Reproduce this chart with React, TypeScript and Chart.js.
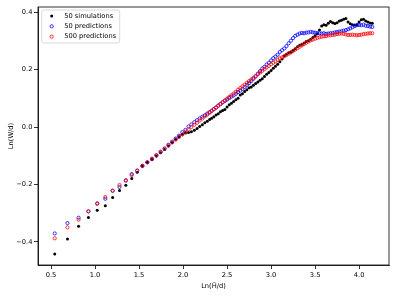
import React, { useEffect, useRef } from "react";
import { Chart, registerables } from "chart.js";

Chart.register(...registerables);

// Ln(H/d) sample positions
const xValues = [
  0.542, 0.687, 0.813, 0.925, 1.025, 1.117, 1.2, 1.278, 1.35, 1.417,
  1.479, 1.538, 1.594, 1.647, 1.697, 1.745, 1.79, 1.834, 1.876, 1.916,
  1.954, 1.992, 2.027, 2.062, 2.095, 2.128, 2.159, 2.189, 2.219, 2.247,
  2.275, 2.302,
  2.325, 2.35, 2.375, 2.4, 2.425, 2.45, 2.475, 2.5, 2.525, 2.55,
  2.575, 2.6, 2.625, 2.65, 2.675, 2.7, 2.725, 2.75, 2.775, 2.8,
  2.825, 2.85, 2.875, 2.9, 2.925, 2.95, 2.975, 3.0, 3.025, 3.05,
  3.075, 3.1, 3.125, 3.15, 3.175, 3.2, 3.225, 3.25, 3.275, 3.3,
  3.325, 3.35, 3.375, 3.4, 3.425, 3.45, 3.475, 3.5, 3.525, 3.55,
  3.575, 3.6, 3.625, 3.65, 3.675, 3.7, 3.725, 3.75, 3.775, 3.8,
  3.825, 3.85, 3.875, 3.9, 3.925, 3.95, 3.975, 4.0, 4.025, 4.05,
  4.075, 4.1, 4.125, 4.15,
];

// 50 simulations
const simY = [
  -0.443, -0.39, -0.346, -0.315, -0.29, -0.274, -0.246, -0.221, -0.203, -0.179,
  -0.158, -0.136, -0.123, -0.113, -0.101, -0.09, -0.078, -0.066, -0.054, -0.043,
  -0.033, -0.025, -0.021, -0.019, -0.016, -0.011, -0.005, 0.002, 0.008, 0.015,
  0.02, 0.026,
  0.031, 0.036, 0.042, 0.046, 0.053, 0.058, 0.061, 0.07, 0.078, 0.083,
  0.089, 0.095, 0.1, 0.112, 0.116, 0.124, 0.13, 0.137, 0.14, 0.146,
  0.152, 0.157, 0.163, 0.168, 0.176, 0.184, 0.19, 0.197, 0.205, 0.212,
  0.219, 0.228, 0.237, 0.248, 0.254, 0.259, 0.262, 0.268, 0.273, 0.28,
  0.285, 0.289, 0.293, 0.298, 0.301, 0.306, 0.312, 0.318, 0.325, 0.338,
  0.352, 0.357, 0.355, 0.362, 0.368, 0.364, 0.361, 0.364, 0.37, 0.372,
  0.376, 0.378, 0.366, 0.36, 0.357, 0.356, 0.357, 0.366, 0.374, 0.376,
  0.37, 0.366, 0.363, 0.362,
];

// 50 predictions
const pred50Y = [
  -0.371, -0.335, -0.316, -0.294, -0.266, -0.25, -0.222, -0.209, -0.187, -0.164,
  -0.152, -0.135, -0.123, -0.112, -0.099, -0.087, -0.075, -0.062, -0.051, -0.04,
  -0.03, -0.018, -0.01, 0.002, 0.009, 0.017, 0.024, 0.03, 0.036, 0.041,
  0.047, 0.052,
  0.057, 0.063, 0.068, 0.075, 0.08, 0.086, 0.091, 0.096, 0.101, 0.106,
  0.11, 0.116, 0.122, 0.127, 0.133, 0.14, 0.147, 0.153, 0.16, 0.168,
  0.176, 0.186, 0.195, 0.204, 0.21, 0.218, 0.224, 0.232, 0.24, 0.246,
  0.252, 0.262, 0.268, 0.274, 0.282, 0.292, 0.301, 0.31, 0.318, 0.322,
  0.326, 0.328, 0.327, 0.329, 0.33, 0.332, 0.33, 0.329, 0.328, 0.327,
  0.326, 0.327, 0.325, 0.326, 0.327, 0.328, 0.33, 0.331, 0.333, 0.334,
  0.336, 0.338, 0.341, 0.344, 0.348, 0.352, 0.355, 0.356, 0.355, 0.357,
  0.353, 0.352, 0.35, 0.349,
];

// 500 predictions
const pred500Y = [
  -0.388, -0.35, -0.323, -0.294, -0.268, -0.244, -0.222, -0.202, -0.185, -0.168,
  -0.152, -0.136, -0.123, -0.11, -0.098, -0.086, -0.075, -0.064, -0.054, -0.044,
  -0.035, -0.026, -0.017, -0.008, 0.0, 0.008, 0.015, 0.023, 0.03, 0.037,
  0.043, 0.05,
  0.056, 0.062, 0.068, 0.074, 0.081, 0.087, 0.093, 0.099, 0.105, 0.111,
  0.117, 0.123, 0.13, 0.136, 0.142, 0.148, 0.154, 0.16, 0.166, 0.172,
  0.178, 0.184, 0.19, 0.196, 0.202, 0.208, 0.213, 0.219, 0.224, 0.229,
  0.234, 0.239, 0.243, 0.247, 0.251, 0.256, 0.26, 0.265, 0.27, 0.275,
  0.28, 0.285, 0.289, 0.294, 0.298, 0.302, 0.305, 0.308, 0.311, 0.313,
  0.315, 0.316, 0.317, 0.319, 0.32, 0.321, 0.322, 0.324, 0.325, 0.326,
  0.325, 0.323, 0.321, 0.321, 0.322, 0.321, 0.32, 0.321, 0.322, 0.324,
  0.325, 0.326, 0.327, 0.327,
];

const seriesLabels = ["50 simulations", "50 predictions", "500 predictions"];
const xTicks = [0.5, 1.0, 1.5, 2.0, 2.5, 3.0, 3.5, 4.0];
const yTicks = [-0.4, -0.2, 0.0, 0.2, 0.4];
const xTitle = "Ln(H\u0304/d)";
const yTitle = "Ln(W/d)";

const FONT = "'DejaVu Sans', sans-serif";
const FONT_SIZE = 6.7;

const fmt = (v: number) => {
  const s = Math.abs(v).toFixed(1);
  return v < -1e-9 ? "\u2212" + s : s;
};

const framePlugin = {
  id: "frame",
  afterDatasetsDraw(chart: any) {
    const { ctx, chartArea } = chart;
    const { left, top, right, bottom } = chartArea;
    ctx.save();
    ctx.strokeStyle = "#000";
    ctx.lineWidth = 0.8;
    ctx.strokeRect(left, top, right - left, bottom - top);
    ctx.restore();
  },
};

const legendPlugin = {
  id: "boxLegend",
  afterDraw(chart: any) {
    const { ctx, chartArea } = chart;
    const bx = chartArea.left + 3.7;
    const by = chartArea.top + 3;
    const bw = 78;
    const bh = 33;
    ctx.save();
    ctx.beginPath();
    const r = 2;
    ctx.moveTo(bx + r, by);
    ctx.lineTo(bx + bw - r, by);
    ctx.quadraticCurveTo(bx + bw, by, bx + bw, by + r);
    ctx.lineTo(bx + bw, by + bh - r);
    ctx.quadraticCurveTo(bx + bw, by + bh, bx + bw - r, by + bh);
    ctx.lineTo(bx + r, by + bh);
    ctx.quadraticCurveTo(bx, by + bh, bx, by + bh - r);
    ctx.lineTo(bx, by + r);
    ctx.quadraticCurveTo(bx, by, bx + r, by);
    ctx.closePath();
    ctx.fillStyle = "rgba(255,255,255,0.8)";
    ctx.fill();
    ctx.strokeStyle = "#d0d0d0";
    ctx.lineWidth = 0.8;
    ctx.stroke();

    const datasets = chart.data.datasets;
    ctx.font = `${FONT_SIZE}px ${FONT}`;
    ctx.textBaseline = "middle";
    ctx.textAlign = "left";
    datasets.forEach((ds: any, i: number) => {
      const cy = by + 6 + i * 10.3;
      const mx = bx + 10;
      ctx.beginPath();
      ctx.arc(mx, cy, ds.pointRadius, 0, Math.PI * 2);
      if (ds.pointBorderWidth > 0) {
        ctx.strokeStyle = ds.pointBorderColor;
        ctx.lineWidth = ds.pointBorderWidth;
        ctx.stroke();
      } else {
        ctx.fillStyle = ds.pointBackgroundColor;
        ctx.fill();
      }
      ctx.fillStyle = "#000";
      ctx.fillText(ds.label, bx + 22.5, cy);
    });
    ctx.restore();
  },
};

export default function App() {
  const canvasRef = useRef<HTMLCanvasElement | null>(null);

  useEffect(() => {
    document.body.style.margin = "0";
    const canvas = canvasRef.current;
    if (!canvas) return;

    const mk = (ys: number[]) => xValues.map((x, i) => ({ x, y: ys[i] }));

    const axisCommon = {
      type: "linear" as const,
      grid: {
        display: true,
        drawOnChartArea: false,
        drawTicks: true,
        tickLength: 4,
        color: "#000",
        lineWidth: 0.8,
      },
      border: { display: true, color: "#000", width: 0.8 },
      ticks: {
        font: { family: FONT, size: FONT_SIZE },
        color: "#000",
        maxRotation: 0,
        autoSkip: false,
        callback: (v: any) => fmt(Number(v)),
      },
    };

    const chart = new Chart(canvas, {
      type: "scatter",
      data: {
        datasets: [
          {
            label: seriesLabels[0],
            data: mk(simY),
            pointRadius: 1.5,
            pointBackgroundColor: "#000",
            pointBorderColor: "#000",
            pointBorderWidth: 0,
            showLine: false,
            order: 3,
          } as any,
          {
            label: seriesLabels[1],
            data: mk(pred50Y),
            pointRadius: 1.6,
            pointBackgroundColor: "rgba(0,0,0,0)",
            pointBorderColor: "#0000ff",
            pointBorderWidth: 0.8,
            showLine: false,
            order: 2,
          } as any,
          {
            label: seriesLabels[2],
            data: mk(pred500Y),
            pointRadius: 1.6,
            pointBackgroundColor: "rgba(0,0,0,0)",
            pointBorderColor: "#ff0000",
            pointBorderWidth: 0.8,
            showLine: false,
            order: 1,
          } as any,
        ],
      },
      options: {
        responsive: false,
        animation: false,
        devicePixelRatio: 1,
        layout: { padding: { left: 0, top: 7, right: 8, bottom: 0 } },
        plugins: {
          legend: { display: false },
          tooltip: { enabled: false },
        },
        scales: {
          x: {
            ...axisCommon,
            min: 0.352,
            max: 4.34,
            ticks: { ...axisCommon.ticks, padding: 2 },
            afterBuildTicks: (s: any) => {
              s.ticks = xTicks.map((v) => ({ value: v }));
            },
            afterFit: (s: any) => {
              s.height = 32;
            },
            title: {
              display: true,
              text: xTitle,
              font: { family: FONT, size: FONT_SIZE },
              color: "#000",
              padding: { top: 0, bottom: 7 },
            },
          },
          y: {
            ...axisCommon,
            min: -0.481,
            max: 0.4185,
            ticks: { ...axisCommon.ticks, padding: 1.5 },
            afterBuildTicks: (s: any) => {
              s.ticks = yTicks.map((v) => ({ value: v }));
            },
            afterFit: (s: any) => {
              s.width = 38;
            },
            title: {
              display: true,
              text: yTitle,
              font: { family: FONT, size: FONT_SIZE },
              color: "#000",
              padding: { top: 7, bottom: 0 },
            },
          },
        } as any,
      },
      plugins: [framePlugin, legendPlugin],
    });

    return () => chart.destroy();
  }, []);

  return (
    <canvas
      ref={canvasRef}
      width={397}
      height={297}
      style={{ display: "block", width: 397, height: 297 }}
    />
  );
}
